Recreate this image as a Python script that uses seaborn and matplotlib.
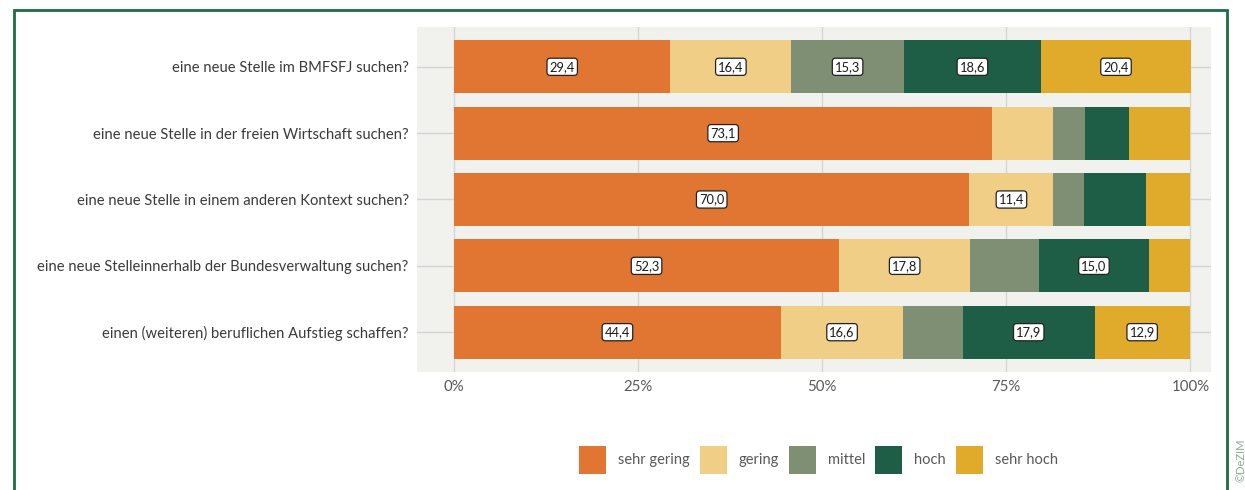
import matplotlib
matplotlib.use("Agg")
import matplotlib.pyplot as plt
from matplotlib.patches import Patch, Rectangle
import numpy as np
import pandas as pd
import seaborn as sns

categories = [
    "eine neue Stelle im BMFSFJ suchen?",
    "eine neue Stelle in der freien Wirtschaft suchen?",
    "eine neue Stelle in einem anderen Kontext suchen?",
    "eine neue Stelleinnerhalb der Bundesverwaltung suchen?",
    "einen (weiteren) beruflichen Aufstieg schaffen?",
]
levels = ["sehr gering", "gering", "mittel", "hoch", "sehr hoch"]
sehr_gering = [29.4, 73.1, 70.0, 52.3, 44.4]
gering = [16.4, 8.3, 11.4, 17.8, 16.6]
mittel = [15.3, 4.3, 4.2, 9.3, 8.1]
hoch = [18.6, 5.9, 8.4, 15.0, 17.9]
sehr_hoch = [20.4, 8.4, 6.0, 5.6, 12.9]
x_ticks = [0, 25, 50, 75, 100]
x_ticklabels = ["0%", "25%", "50%", "75%", "100%"]

colors = ["#E07631", "#F0CE85", "#7F8F73", "#1F5E46", "#E0AA2A"]

sns.set_theme(style="white")
plt.rcParams["font.family"] = ["Lato", "DejaVu Sans"]

series = [sehr_gering, gering, mittel, hoch, sehr_hoch]
df = pd.DataFrame({lvl: vals for lvl, vals in zip(levels, series)})
df["Frage"] = categories
cum = df[levels].cumsum(axis=1)
cum["Frage"] = categories

fig = plt.figure(figsize=(12.45, 4.9), dpi=100)
W, H = 1245, 490
ax = fig.add_axes([417 / W, 1 - 372 / H, (1211 - 417) / W, (372 - 27) / H])
ax.set_facecolor("#F1F2EE")

for lvl, col in reversed(list(zip(levels, colors))):
    sns.barplot(data=cum, x=lvl, y="Frage", order=categories, orient="h",
                color=col, saturation=1, width=0.8, errorbar=None,
                linewidth=0, ax=ax, zorder=3)

# value labels
for i, cat in enumerate(categories):
    start = 0.0
    for lvl in levels:
        v = df.loc[i, lvl]
        if v >= 10:
            ax.text(start + v / 2, i, f"{v:.1f}".replace(".", ","),
                    ha="center", va="center", fontsize=9.3, color="#1a1a1a",
                    zorder=5,
                    bbox=dict(boxstyle="round,pad=0.2,rounding_size=0.25",
                              fc="white", ec="#222222", lw=0.9))
        start += v

ax.set_xlim(-5.02, 102.8)
ax.set_ylim(4.6, -0.6)
ax.set_xticks(x_ticks)
ax.set_xticklabels(x_ticklabels)
ax.set_xlabel("")
ax.set_ylabel("")
ax.grid(True, axis="both", color="#D4D4D4", linewidth=1.0, zorder=0)
ax.set_axisbelow(True)
for s in ax.spines.values():
    s.set_visible(False)
ax.tick_params(axis="y", length=0, pad=6, labelsize=10.6, labelcolor="#3a3a3a")
ax.tick_params(axis="x", length=0, pad=6, labelsize=10.8, labelcolor="#595959")

handles = [Patch(facecolor=c, edgecolor="none", label=l) for l, c in zip(levels, colors)]
leg = fig.legend(handles=handles, loc="center", ncol=5,
                 bbox_to_anchor=(818.5 / W, 1 - 460 / H), frameon=False,
                 fontsize=10.5, handlelength=1.85, handleheight=2.6,
                 handletextpad=0.8, columnspacing=0.7)
for t in leg.get_texts():
    t.set_color("#595959")

# outer green frame
fig.patches.append(Rectangle((14 / W, -0.1), (1227 - 14) / W, 0.1 + (1 - 10 / H),
                             transform=fig.transFigure, fill=False,
                             edgecolor="#1F6A43", linewidth=2.0, zorder=10))

fig.text(1241 / W, 1 - 438 / H, "©DeZIM", rotation=90, ha="center", va="top",
         fontsize=8, color="#8FA898")

fig.savefig("out.png", dpi=100, facecolor="white")
